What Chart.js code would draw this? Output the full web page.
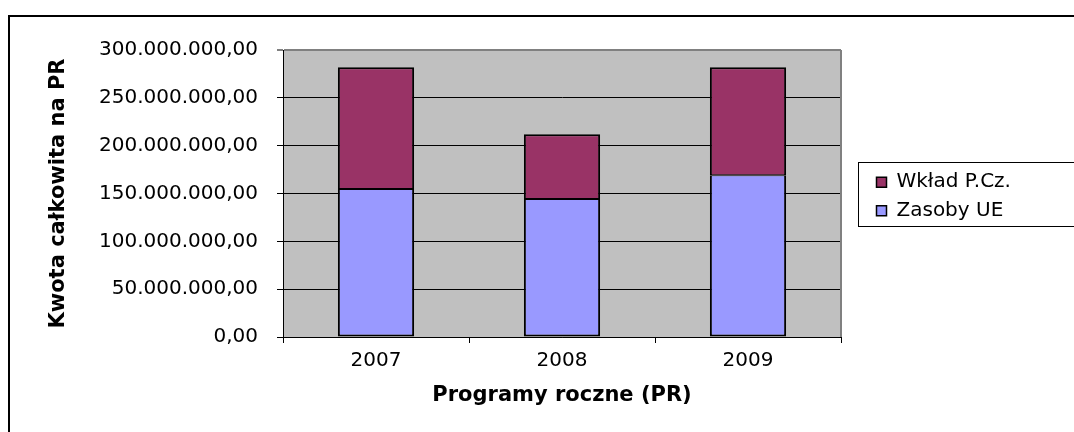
<!DOCTYPE html>
<html>
<head>
<meta charset="utf-8">
<style>
  html, body { margin: 0; padding: 0; background: #fff; }
  #wrap { width: 1074px; height: 432px; position: relative; }
</style>
<script src="https://cdn.jsdelivr.net/npm/chart.js@4/dist/chart.umd.min.js"></script>
</head>
<body>
<div id="wrap"><canvas id="c" width="1074" height="432"></canvas></div>
<script>
// ---- data ----
const categories = ['2007', '2008', '2009'];
const seriesNames = ['Zasoby UE', 'Wkład P.Cz.'];
const zasobyUE = [154700000, 144300000, 169200000];
const wkladPCz = [127300000, 67600000, 112800000];
const yTickMin = 0;
const yTickMax = 300000000;
const yTickStep = 50000000;
const xTitle = 'Programy roczne (PR)';
const yTitle = 'Kwota całkowita na PR';

function fmt(v) {
  const s = Math.round(v).toString();
  const grouped = s.replace(/\B(?=(\d{3})+(?!\d))/g, '.');
  return grouped + ',00';
}

Chart.defaults.font.family = "'DejaVu Sans', Verdana, sans-serif";
Chart.defaults.color = '#000';

const decor = {
  id: 'decor',
  beforeLayout(chart) {
    const lg = chart.legend;
    if (lg && !lg._patched) {
      const orig = lg.fit;
      lg.fit = function () { orig.call(this); this.width = 233; };
      lg._patched = true;
    }
  },
  afterLayout(chart) {
    const lg = chart.legend, a = chart.chartArea;
    if (lg) { lg.left += 27; lg.top = a.top + 3; lg.bottom = a.bottom + 3; }
  },
  beforeDraw(chart) {
    const ctx = chart.ctx, a = chart.chartArea;
    ctx.save();
    ctx.fillStyle = '#fff';
    ctx.fillRect(0, 0, chart.width, chart.height);
    // outer chart border
    ctx.strokeStyle = '#000';
    ctx.lineWidth = 2;
    ctx.beginPath();
    ctx.moveTo(9, chart.height + 5);
    ctx.lineTo(9, 16);
    ctx.lineTo(chart.width + 5, 16);
    ctx.stroke();
    // plot background
    ctx.fillStyle = '#C0C0C0';
    ctx.fillRect(a.left, a.top, a.right - a.left, a.bottom - a.top);
    ctx.restore();
  },
  afterDraw(chart) {
    const ctx = chart.ctx, a = chart.chartArea, lg = chart.legend;
    ctx.save();
    // plot right border
    ctx.strokeStyle = '#808080';
    ctx.lineWidth = 2;
    ctx.beginPath();
    ctx.moveTo(a.right, a.top);
    ctx.lineTo(a.right, a.bottom);
    ctx.stroke();
    // legend frame
    const mid = (a.top + a.bottom) / 2 + 3;
    ctx.strokeStyle = '#000';
    ctx.lineWidth = 1;
    ctx.strokeRect(Math.round(lg.left - 10) + 0.5, Math.round(mid - 35) + 0.5, chart.width, 64);
    ctx.restore();
  }
};

new Chart(document.getElementById('c'), {
  type: 'bar',
  data: {
    labels: categories,
    datasets: [
      { label: seriesNames[0], data: zasobyUE, backgroundColor: '#9999FF', borderColor: '#000',
        borderWidth: { left: 2, right: 2, top: 1, bottom: 2 }, borderSkipped: false },
      { label: seriesNames[1], data: wkladPCz, backgroundColor: '#993366', borderColor: '#000',
        borderWidth: { left: 2, right: 2, top: 2, bottom: 1 }, borderSkipped: false }
    ]
  },
  options: {
    responsive: false,
    animation: false,
    events: [],
    layout: { padding: { left: 40, top: 50, right: 0, bottom: 0 } },
    datasets: { bar: { categoryPercentage: 1, barPercentage: 0.41 } },
    plugins: {
      tooltip: { enabled: false },
      legend: {
        position: 'right',
        reverse: true,
        labels: {
          boxWidth: 10, boxHeight: 10, padding: 8.5,
          font: { size: 20 }, color: '#000',
          generateLabels(chart) {
            const items = Chart.defaults.plugins.legend.labels.generateLabels(chart);
            items.forEach(it => { it.lineWidth = 1.5; });
            return items;
          }
        }
      }
    },
    scales: {
      x: {
        stacked: true,
        afterFit(s) { s.height = 95; },
        grid: { offset: true, drawOnChartArea: false, drawTicks: true, tickLength: 6, color: '#000' },
        border: { color: '#000', width: 1 },
        ticks: { padding: 6, font: { size: 20 }, color: '#000' },
        title: { display: true, text: xTitle, font: { size: 21, weight: 'bold' }, color: '#000', padding: { top: 0, bottom: 24 } }
      },
      y: {
        stacked: true,
        min: yTickMin,
        max: yTickMax,
        afterFit(s) { s.width = 243; },
        grid: {
          color: (c) => (c.tick && c.tick.value === yTickMax) ? '#808080' : '#000',
          lineWidth: (c) => (c.tick && c.tick.value === yTickMax) ? 2 : 1,
          tickLength: 6
        },
        border: { color: '#000', width: 1 },
        ticks: { stepSize: yTickStep, padding: 19, font: { size: 20 }, color: '#000', callback: (v) => fmt(v) },
        title: { display: true, text: yTitle, font: { size: 21, weight: 'bold' }, color: '#000', padding: { top: 6, bottom: 0 } }
      }
    }
  },
  plugins: [decor]
});
</script>
</body>
</html>
